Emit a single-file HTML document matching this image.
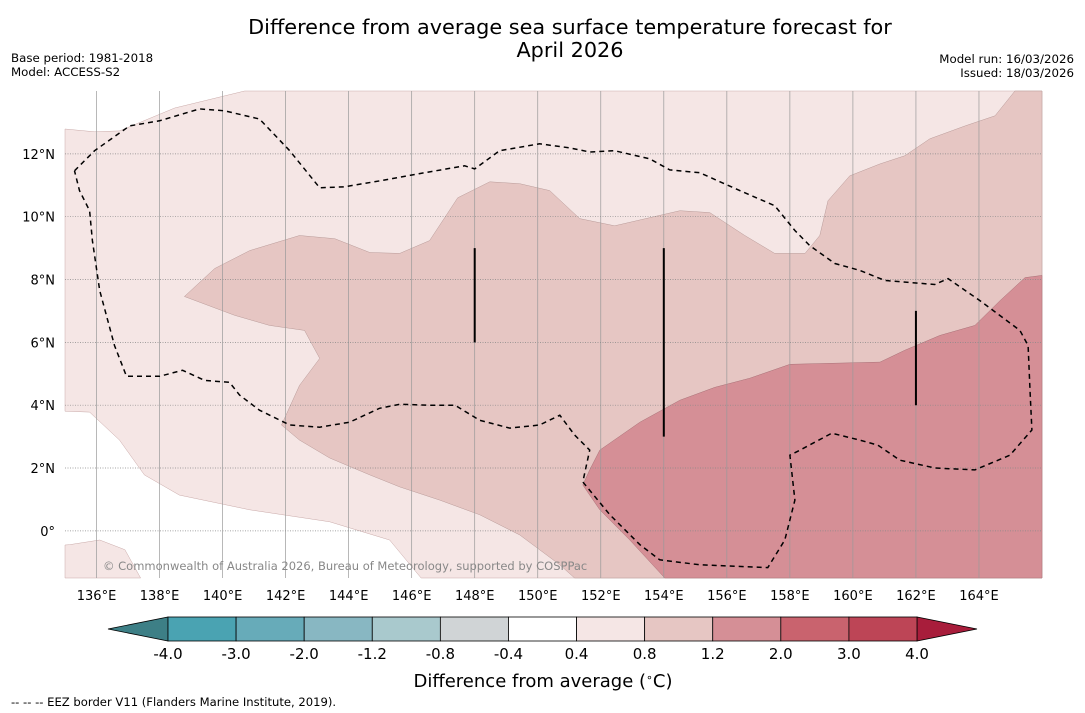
<!DOCTYPE html>
<html><head><meta charset="utf-8">
<style>
html,body{margin:0;padding:0;background:#fff;}
svg{display:block;font-family:"DejaVu Sans","Liberation Sans",sans-serif;}
</style></head>
<body>
<svg id="chart" width="1085" height="713" viewBox="0 0 1085 713">
<text x="570" y="34" font-size="20.8" text-anchor="middle">Difference from average sea surface temperature forecast for</text>
<text x="570" y="57" font-size="20.8" text-anchor="middle">April 2026</text>
<text x="11" y="62" font-size="11.8">Base period: 1981-2018</text>
<text x="11" y="76" font-size="11.8">Model: ACCESS-S2</text>
<text x="1074" y="63" font-size="11.8" text-anchor="end">Model run: 16/03/2026</text>
<text x="1074" y="77" font-size="11.8" text-anchor="end">Issued: 18/03/2026</text>
<g id="map"></g>
<g id="cbar"></g>
<text x="543" y="687" font-size="18" text-anchor="middle">Difference from average (<tspan baseline-shift="super" font-size="11">∘</tspan>C)</text>
<text x="11" y="706" font-size="11.6">--  --  -- EEZ border V11 (Flanders Marine Institute, 2019).</text>
</svg>
<script>
const lonTicks=[136,138,140,142,144,146,148,150,152,154,156,158,160,162,164];
const latTicks=[0,2,4,6,8,10,12];
const latLabels=["0°","2°N","4°N","6°N","8°N","10°N","12°N"];
const levels=["-4.0","-3.0","-2.0","-1.2","-0.8","-0.4","0.4","0.8","1.2","2.0","3.0","4.0"];
const levelColors=["#4aa3b2","#67abb9","#88b7c2","#a9c9cd","#d0d4d6","#ffffff","#f5e6e5","#e6c6c3","#d58f96","#c9636e","#bd4556"];
const lightRegion=[[135,12.79],[135.94,12.7],[136.73,12.73],[138.48,13.46],[140.7,14],[166,14],[166,-1.5],[146.3,-1.5],[145.3,-0.29],[143.4,0.29],[140.86,0.67],[138.63,1.14],[137.52,1.78],[136.73,2.89],[135.78,3.78],[135,3.81]];
const lightPatch=[[135,-0.45],[135.14,-0.44],[136.1,-0.29],[136.9,-0.6],[137.4,-1.5],[135,-1.5]];
const mediumRegion=[[138.79,7.46],[139.75,8.35],[140.86,8.92],[142.44,9.4],[143.56,9.3],[144.67,8.86],[145.62,8.83],[146.57,9.24],[147.46,10.6],[148.48,11.11],[149.43,11.05],[150.38,10.83],[151.33,9.94],[152.44,9.71],[154.51,10.19],[155.46,10.13],[156.57,9.4],[157.52,8.83],[158.48,8.83],[158.95,9.4],[159.21,10.51],[159.9,11.3],[160.86,11.68],[161.65,11.94],[162.44,12.48],[163.56,12.89],[164.51,13.21],[165.14,14],[166,14],[166,-1.5],[151.17,-1.5],[150.7,-1.08],[149.43,-0.13],[148.16,0.51],[146.89,0.98],[145.62,1.4],[144.67,1.78],[143.4,2.32],[142.44,2.89],[141.87,3.37],[142.44,4.63],[143.08,5.49],[142.6,6.38],[141.49,6.54],[140.38,6.86]];
const darkRegion=[[166,8.13],[165.46,8.06],[164.67,7.33],[163.87,6.54],[162.76,6.22],[161.65,5.75],[160.86,5.37],[158,5.3],[156.73,4.86],[155.62,4.57],[154.51,4.16],[153.24,3.46],[151.97,2.57],[151.65,1.94],[151.43,1.46],[151.97,0.67],[152.92,-0.29],[154.03,-1.5],[166,-1.5]];
const dashedContour=[[135.3,11.46],[135.94,12.1],[137.05,12.89],[138,13.05],[139.27,13.43],[140.06,13.37],[141.17,13.11],[142.13,12.1],[143.08,10.92],[143.87,10.95],[144.98,11.14],[146.25,11.37],[147.68,11.62],[148,11.52],[148.79,12.1],[150.06,12.32],[151.02,12.19],[151.65,12.06],[152.44,12.1],[153.56,11.84],[154.19,11.49],[155.14,11.4],[156.41,10.83],[157.52,10.35],[158.16,9.56],[158.63,9.08],[159.43,8.51],[160.22,8.29],[161.02,7.97],[162.6,7.84],[163.02,8.03],[164.03,7.33],[165.3,6.38],[165.56,5.9],[165.62,4.48],[165.68,3.21],[164.98,2.41],[163.87,1.94],[162.6,2.0],[161.49,2.25],[160.79,2.73],[160.22,2.89],[159.33,3.11],[158.32,2.57],[158,2.41],[158.16,0.98],[157.84,-0.29],[157.3,-1.17],[155.14,-1.08],[153.87,-0.92],[153.24,-0.44],[152.29,0.51],[151.43,1.56],[151.65,2.57],[151.17,3.05],[150.7,3.68],[150.06,3.37],[149.11,3.27],[148.16,3.52],[147.37,4.0],[146.57,4.0],[145.62,4.03],[144.98,3.9],[144.03,3.46],[143.08,3.3],[142.13,3.37],[141.17,3.84],[140.54,4.32],[140.22,4.73],[139.43,4.79],[138.73,5.11],[138,4.92],[136.95,4.92],[136.57,5.9],[136.1,7.65],[135.87,9.24],[135.78,10.19],[135.46,10.83],[135.3,11.46]];
const barLons=[148,154,162];
const barLatLow=[6,3,4];
const barLatHigh=[9,9,7];

const NS="http://www.w3.org/2000/svg";
const X0=65,X1=1042,Y0=91,Y1=578;
const lonMin=135,lonMax=166,latMin=-1.5,latMax=14;
const xs=lon=>X0+(lon-lonMin)/(lonMax-lonMin)*(X1-X0);
const ys=lat=>Y1-(lat-latMin)/(latMax-latMin)*(Y1-Y0);
function mk(tag,attrs,parent){const e=document.createElementNS(NS,tag);for(const k in attrs)e.setAttribute(k,attrs[k]);parent.appendChild(e);return e;}
const pts=a=>a.map(p=>xs(p[0]).toFixed(1)+","+ys(p[1]).toFixed(1)).join(" ");
const map=document.getElementById("map");
let e;
e=mk("polygon",{points:pts(lightRegion),fill:"#f5e6e5",stroke:"#c9a9a8","stroke-width":0.5},map);


e=mk("polygon",{points:pts(lightPatch),fill:"#f5e6e5",stroke:"#c9a9a8","stroke-width":0.5},map);


e=mk("polygon",{points:pts(mediumRegion),fill:"#e6c6c3",stroke:"#b89a98","stroke-width":0.5},map);


e=mk("polygon",{points:pts(darkRegion),fill:"#d58f96",stroke:"#a87076","stroke-width":0.5},map);


lonTicks.forEach(l=>{
 e=mk("line",{x1:xs(l),x2:xs(l),y1:Y0,y2:Y1,stroke:"#999","stroke-width":0.7},map);
 
 
 e=mk("text",{x:xs(l),y:Y1+22,"font-size":13,"text-anchor":"middle"},map);e.textContent=l+"°E";
 
 
});
latTicks.forEach((l,i)=>{
 e=mk("line",{x1:X0,x2:X1,y1:ys(l),y2:ys(l),stroke:"#888","stroke-width":0.7,"stroke-dasharray":"1,1.5"},map);
 
 
 e=mk("text",{x:55,y:ys(l)+5,"font-size":13,"text-anchor":"end"},map);e.textContent=latLabels[i];
 
 
});
e=mk("polyline",{points:pts(dashedContour),fill:"none",stroke:"#000","stroke-width":1.5,"stroke-dasharray":"5,4"},map);


barLons.forEach((l,i)=>{
 e=mk("line",{x1:xs(l),x2:xs(l),y1:ys(barLatLow[i]),y2:ys(barLatHigh[i]),stroke:"#000","stroke-width":2},map);
 
 
});
e=mk("text",{x:103,y:570,"font-size":11.5,fill:"#888"},map);e.textContent="© Commonwealth of Australia 2026, Bureau of Meteorology, supported by COSPPac";



const cb=document.getElementById("cbar");
const cbL=168,cbR=917,cbT=617,cbB=641,n=levelColors.length,w=(cbR-cbL)/n;
e=mk("polygon",{points:`${cbL},${cbT} ${cbL},${cbB} 108,629`,fill:"#3d7f86",stroke:"#000","stroke-width":0.8},cb);


e=mk("polygon",{points:`${cbR},${cbT} ${cbR},${cbB} 977,629`,fill:"#a81d3b",stroke:"#000","stroke-width":0.8},cb);


levelColors.forEach((c,i)=>{
 e=mk("rect",{x:cbL+i*w,y:cbT,width:w,height:cbB-cbT,fill:c,stroke:"#000","stroke-width":0.8},cb);
 
 
});
levels.forEach((t,i)=>{
 e=mk("text",{x:cbL+i*w,y:659,"font-size":15,"text-anchor":"middle"},cb);e.textContent=t;
 
 
});
</script>
</body></html>
